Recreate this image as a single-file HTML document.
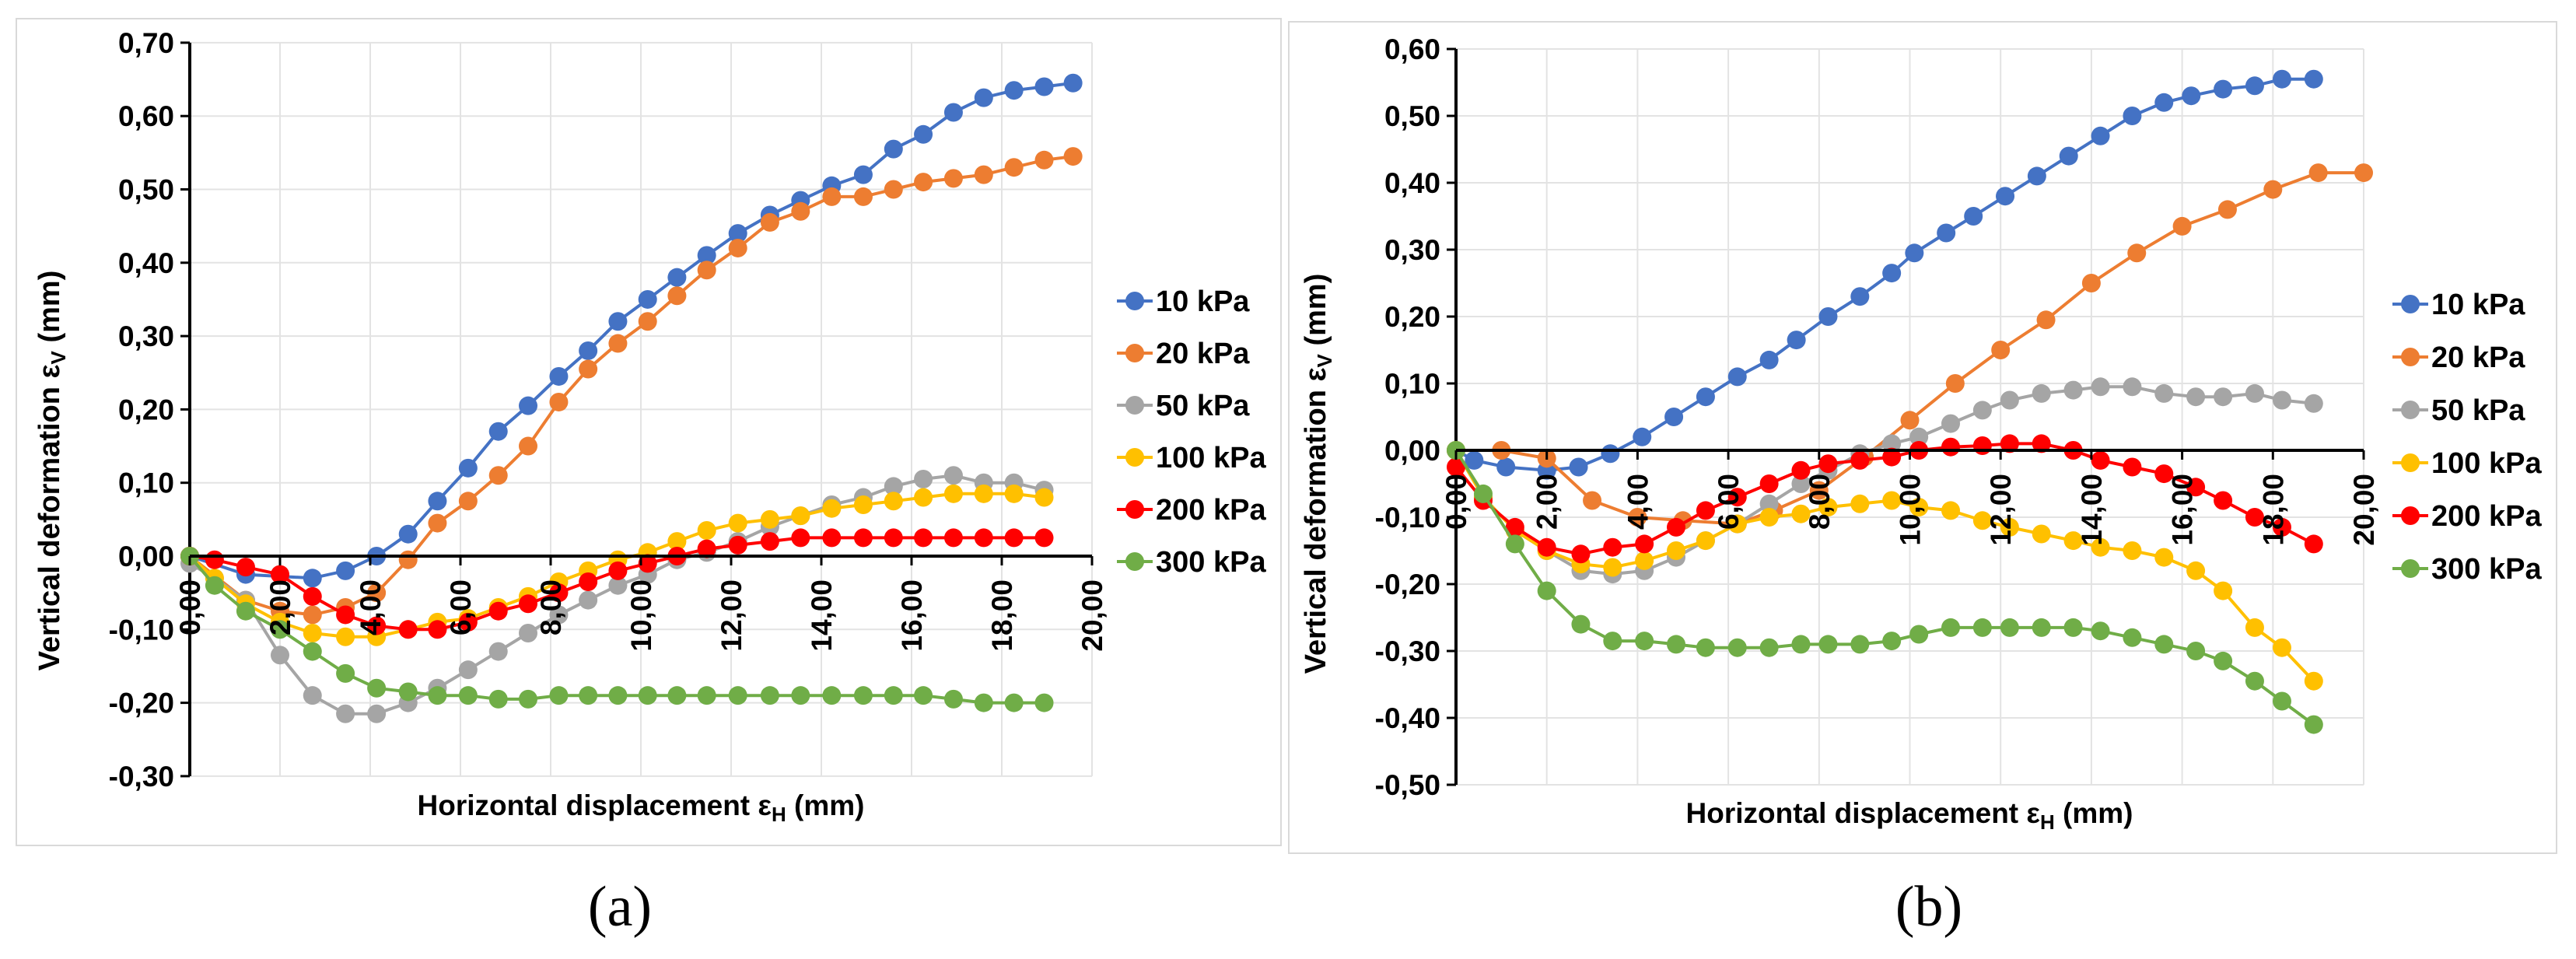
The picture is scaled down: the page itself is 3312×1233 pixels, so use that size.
<!DOCTYPE html>
<html><head><meta charset="utf-8"><style>
body{margin:0;background:#fff;}
svg{display:block;font-family:"Liberation Sans",sans-serif;}
</style></head><body>
<svg id="c" width="3312" height="1233" viewBox="0 0 3312 1233" xmlns="http://www.w3.org/2000/svg"></svg>
<script>
const seriesNames=["10 kPa","20 kPa","50 kPa","100 kPa","200 kPa","300 kPa"];
const colors=["#4472C4","#ED7D31","#A5A5A5","#FFC000","#FF0000","#70AD47"];
// Panel a data
const aX=[0,0.55,1.24,2.0,2.72,3.45,4.14,4.84,5.49,6.17,6.84,7.5,8.18,8.83,9.49,10.15,10.8,11.46,12.15,12.86,13.54,14.23,14.93,15.6,16.26,16.93,17.6,18.27,18.94,19.58];
const a10=[0,null,-0.025,null,-0.03,-0.02,0,0.03,0.075,0.12,0.17,0.205,0.245,0.28,0.32,0.35,0.38,0.41,0.44,0.465,0.485,0.505,0.52,0.555,0.575,0.605,0.625,0.635,0.64,0.645];
const a20=[0,null,-0.06,-0.075,-0.08,-0.07,-0.05,-0.005,0.045,0.075,0.11,0.15,0.21,0.255,0.29,0.32,0.355,0.39,0.42,0.455,0.47,0.49,0.49,0.5,0.51,0.515,0.52,0.53,0.54,0.545];
const a50=[-0.01,-0.03,-0.06,-0.135,-0.19,-0.215,-0.215,-0.2,-0.18,-0.155,-0.13,-0.105,-0.08,-0.06,-0.04,-0.025,-0.005,0.005,0.02,0.04,0.055,0.07,0.08,0.095,0.105,0.11,0.1,0.1,0.09,null];
const a100=[0,-0.03,-0.065,-0.09,-0.105,-0.11,-0.11,-0.1,-0.09,-0.085,-0.07,-0.055,-0.035,-0.02,-0.005,0.005,0.02,0.035,0.045,0.05,0.055,0.065,0.07,0.075,0.08,0.085,0.085,0.085,0.08,null];
const a200=[0,-0.005,-0.015,-0.025,-0.055,-0.08,-0.095,-0.1,-0.1,-0.09,-0.075,-0.065,-0.05,-0.035,-0.02,-0.01,0,0.01,0.015,0.02,0.025,0.025,0.025,0.025,0.025,0.025,0.025,0.025,0.025,null];
const a300=[0,-0.04,-0.075,-0.1,-0.13,-0.16,-0.18,-0.185,-0.19,-0.19,-0.195,-0.195,-0.19,-0.19,-0.19,-0.19,-0.19,-0.19,-0.19,-0.19,-0.19,-0.19,-0.19,-0.19,-0.19,-0.195,-0.2,-0.2,-0.2,null];
// Panel b data
const b10X=[0,0.4,1.1,2.0,2.7,3.4,4.1,4.8,5.5,6.2,6.9,7.5,8.2,8.9,9.6,10.1,10.8,11.4,12.1,12.8,13.5,14.2,14.9,15.6,16.2,16.9,17.6,18.2,18.9];
const b10=[0,-0.015,-0.025,-0.03,-0.025,-0.005,0.02,0.05,0.08,0.11,0.135,0.165,0.2,0.23,0.265,0.295,0.325,0.35,0.38,0.41,0.44,0.47,0.5,0.52,0.53,0.54,0.545,0.555,0.555];
const b20X=[0,1,2,3,4,5,6.2,7,8,9,10,11,12,13,14,15,16,17,18,19,20];
const b20=[0,0,-0.012,-0.075,-0.1,-0.105,-0.11,-0.09,-0.06,-0.01,0.045,0.1,0.15,0.195,0.25,0.295,0.335,0.36,0.39,0.415,0.415];
const bX=[0,0.6,1.3,2.0,2.75,3.45,4.15,4.85,5.5,6.2,6.9,7.6,8.2,8.9,9.6,10.2,10.9,11.6,12.2,12.9,13.6,14.2,14.9,15.6,16.3,16.9,17.6,18.2,18.9];
const b50=[0,-0.07,-0.12,-0.15,-0.18,-0.185,-0.18,-0.16,-0.135,-0.11,-0.08,-0.05,-0.03,-0.005,0.01,0.02,0.04,0.06,0.075,0.085,0.09,0.095,0.095,0.085,0.08,0.08,0.085,0.075,0.07];
const b100=[0,-0.07,-0.12,-0.15,-0.17,-0.175,-0.165,-0.15,-0.135,-0.11,-0.1,-0.095,-0.085,-0.08,-0.075,-0.085,-0.09,-0.105,-0.115,-0.125,-0.135,-0.145,-0.15,-0.16,-0.18,-0.21,-0.265,-0.295,-0.345];
const b200=[-0.025,-0.075,-0.115,-0.145,-0.155,-0.145,-0.14,-0.115,-0.09,-0.07,-0.05,-0.03,-0.02,-0.015,-0.01,0,0.005,0.007,0.01,0.01,0,-0.015,-0.025,-0.035,-0.055,-0.075,-0.1,-0.115,-0.14];
const b300=[0,-0.065,-0.14,-0.21,-0.26,-0.285,-0.285,-0.29,-0.295,-0.295,-0.295,-0.29,-0.29,-0.29,-0.285,-0.275,-0.265,-0.265,-0.265,-0.265,-0.265,-0.27,-0.28,-0.29,-0.3,-0.315,-0.345,-0.375,-0.41];
const xTicks=[0,2,4,6,8,10,12,14,16,18,20];
const aYTicks=[0.7,0.6,0.5,0.4,0.3,0.2,0.1,0,-0.1,-0.2,-0.3];
const bYTicks=[0.6,0.5,0.4,0.3,0.2,0.1,0,-0.1,-0.2,-0.3,-0.4,-0.5];

const NS="http://www.w3.org/2000/svg";
const svg=document.getElementById('c');
function mk(tag,attrs,parent,text){const e=document.createElementNS(NS,tag);for(const k in attrs)e.setAttribute(k,attrs[k]);if(text!==undefined)e.textContent=text;(parent||svg).appendChild(e);return e;}
function fmt(v){return v.toFixed(2).replace('.',',');}

function panel(cfg){
  const g=mk('g',{});
  
  
  const frame=mk('rect',{x:cfg.frame[0],y:cfg.frame[1],width:cfg.frame[2],height:cfg.frame[3],fill:'none',stroke:'#d9d9d9','stroke-width':2},g);
  
  
  const sx=v=>cfg.x0+v*cfg.px;
  const sy=v=>cfg.yZero-v*cfg.py;
  const yMax=cfg.yTicks[0],yMin=cfg.yTicks[cfg.yTicks.length-1];
  cfg.yTicks.forEach(t=>{
    const l=mk('line',{x1:sx(0),x2:sx(20),y1:sy(t),y2:sy(t),stroke:'#e3e3e3','stroke-width':2},g);
    
    
  });
  xTicks.forEach(t=>{
    if(t===0)return;
    const l=mk('line',{x1:sx(t),x2:sx(t),y1:sy(yMax),y2:sy(yMin),stroke:'#e3e3e3','stroke-width':2},g);
    
    
  });
  const ya=mk('line',{x1:sx(0),x2:sx(0),y1:sy(yMax),y2:sy(yMin),stroke:'#000','stroke-width':4},g);
  
  
  cfg.yTicks.forEach(t=>{
    mk('line',{x1:sx(0)-12,x2:sx(0),y1:sy(t),y2:sy(t),stroke:'#000','stroke-width':3},g);
    const tx=mk('text',{x:sx(0)-20,y:sy(t)+13,'text-anchor':'end','font-size':37,'font-weight':'bold',fill:'#000'},g,fmt(t));
    
    
  });
  cfg.series.forEach((s,i)=>{
    const sg=mk('g',{},g);
    
    
    let d='';
    s.y.forEach((v,j)=>{if(v===null)return;d+=(d?'L':'M')+sx(s.x[j]).toFixed(1)+','+sy(v).toFixed(1);});
    mk('path',{d:d,fill:'none',stroke:colors[i],'stroke-width':4},sg);
    s.y.forEach((v,j)=>{
      if(v===null)return;
      const c=mk('circle',{cx:sx(s.x[j]),cy:sy(v),r:12,fill:colors[i]},sg);
      
      
    });
  });
  const xa=mk('line',{x1:sx(0),x2:sx(20),y1:sy(0),y2:sy(0),stroke:'#000','stroke-width':4},g);
  
  
  xTicks.forEach(t=>{
    mk('line',{x1:sx(t),x2:sx(t),y1:sy(0),y2:sy(0)+12,stroke:'#000','stroke-width':3},g);
    const x=sx(t)+13,y=sy(0)+30;
    const tx=mk('text',{x:x,y:y,'text-anchor':'end','font-size':37,'font-weight':'bold',fill:'#000',transform:`rotate(-90 ${x} ${y})`},g,fmt(t));
    
    
  });
  const yt=mk('text',{x:cfg.yTitle[0],y:cfg.yTitle[1],'text-anchor':'middle','font-size':38,'font-weight':'bold',fill:'#000',transform:`rotate(-90 ${cfg.yTitle[0]} ${cfg.yTitle[1]})`},g);
  
  
  mk('tspan',{},yt,'Vertical deformation ε');
  mk('tspan',{'font-size':26,dy:8},yt,'V');
  mk('tspan',{dy:-8},yt,' (mm)');
  const xt=mk('text',{x:cfg.xTitle[0],y:cfg.xTitle[1],'text-anchor':'middle','font-size':37,fill:'#000','font-weight':'bold'},g);
  
  
  mk('tspan',{},xt,'Horizontal displacement ε');
  mk('tspan',{'font-size':26,dy:8},xt,'H');
  mk('tspan',{dy:-8},xt,' (mm)');
  const lg=mk('g',{},g);
  
  
  seriesNames.forEach((n,i)=>{
    const y=cfg.legend[1]+i*cfg.legend[2];
    const e=mk('g',{},lg);
    
    
    mk('line',{x1:cfg.legend[0],x2:cfg.legend[0]+46,y1:y,y2:y,stroke:colors[i],'stroke-width':4},e);
    mk('circle',{cx:cfg.legend[0]+23,cy:y,r:12,fill:colors[i]},e);
    mk('text',{x:cfg.legend[0]+50,y:y+13,'font-size':38,'font-weight':'bold',fill:'#000'},e,n);
  });
  const cap=mk('text',{x:cfg.caption[0],y:cfg.caption[1],'text-anchor':'middle','font-size':74,'font-family':'"Liberation Serif",serif',fill:'#000'},svg,cfg.captionText);
  
  
}

panel({name:'chart-a',frame:[21,24,1626,1063],x0:244,px:58,yZero:715,py:943,yTicks:aYTicks,
  series:[{x:aX,y:a10},{x:aX,y:a20},{x:aX,y:a50},{x:aX,y:a100},{x:aX,y:a200},{x:aX,y:a300}],
  yTitle:[76,605],xTitle:[824,1048],legend:[1436,387,67],caption:[797,1190],captionText:'(a)'});
panel({name:'chart-b',frame:[1657,28,1630,1069],x0:1872,px:58.35,yZero:579,py:860,yTicks:bYTicks,
  series:[{x:b10X,y:b10},{x:b20X,y:b20},{x:bX,y:b50},{x:bX,y:b100},{x:bX,y:b200},{x:bX,y:b300}],
  yTitle:[1704,609],xTitle:[2455,1058],legend:[3076,391,68],caption:[2480,1190],captionText:'(b)'});
</script>
</body></html>
